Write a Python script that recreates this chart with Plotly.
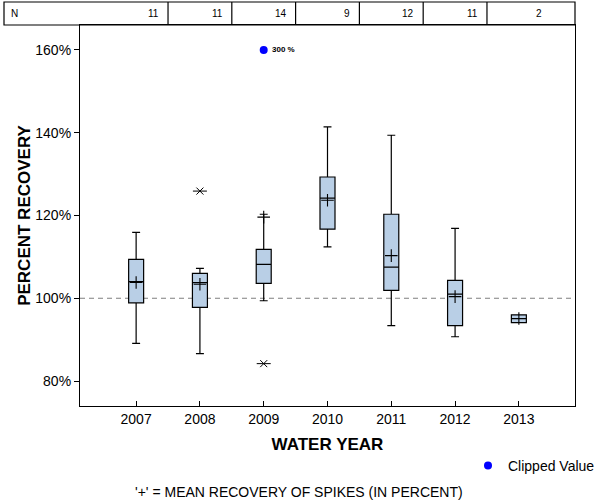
import plotly.graph_objects as go

# ---- data ----
years = [2007, 2008, 2009, 2010, 2011, 2012, 2013]
n_counts = [11, 11, 14, 9, 12, 11, 2]
q1 = [98.9, 97.8, 103.6, 116.7, 101.9, 93.4, 94.1]
median = [104.0, 103.8, 108.2, 124.2, 107.5, 101.0, 95.1]
q3 = [109.4, 106.0, 111.8, 129.3, 120.3, 104.3, 96.0]
lower_whisker = [89.1, 86.6, 99.4, 112.4, 93.4, 90.7, 94.1]
upper_whisker = [115.9, 107.2, 120.3, 141.4, 139.4, 116.9, 96.0]
means = [103.8, 103.4, 119.6, 123.7, 110.3, 100.4, 95.1]
outlier_years = [2008, 2009]
outlier_values = [125.9, 84.2]
clipped_years = [2009]
clipped_plot_values = [160]
clipped_labels = ["300 %"]
y_ticks = [80, 100, 120, 140, 160]
y_tick_labels = ["80%", "100%", "120%", "140%", "160%"]
reference_value = 100

FONT = "Arial, Liberation Sans, sans-serif"
XMIN, XMAX = 2006.12, 2013.88
YMIN, YMAX = 73.96, 166.04
BOX_FILL = "#b9cfe6"


def px(xv):
    return (xv - XMIN) / (XMAX - XMIN)


fig = go.Figure()

fig.add_trace(go.Box(
    x=years, q1=q1, median=median, q3=q3,
    lowerfence=lower_whisker, upperfence=upper_whisker,
    width=0.235, whiskerwidth=0.53,
    fillcolor=BOX_FILL, line=dict(color="black", width=1.2),
    boxpoints=False, showlegend=False, hoverinfo="skip",
))

fig.add_trace(go.Scatter(
    x=years, y=means, mode="markers", showlegend=False,
    marker=dict(symbol="cross-thin-open", size=9, color="black",
                line=dict(color="black", width=1.1)),
))

fig.add_trace(go.Scatter(
    x=outlier_years, y=outlier_values, mode="markers", showlegend=False,
    marker=dict(symbol="x-thin-open", size=7, color="black",
                line=dict(color="black", width=1)),
))
fig.add_trace(go.Scatter(
    x=outlier_years, y=outlier_values, mode="markers", showlegend=False,
    marker=dict(symbol="line-ew-open", size=10, color="black",
                line=dict(color="black", width=1)),
))

fig.add_trace(go.Scatter(
    x=clipped_years, y=clipped_plot_values, mode="markers",
    name="Clipped Value", showlegend=True,
    marker=dict(symbol="circle", size=8, color="#0000ff"),
))

for xv, yv, lab in zip(clipped_years, clipped_plot_values, clipped_labels):
    fig.add_annotation(x=xv, y=yv, xref="x", yref="y", text="<b>" + lab + "</b>",
                       showarrow=False, xanchor="left", yanchor="middle",
                       xshift=6, font=dict(family=FONT, size=8, color="black"))

# reference line at 100%
fig.add_shape(type="line", xref="paper", yref="y", x0=0, x1=1,
              y0=reference_value, y1=reference_value, layer="below",
              line=dict(color="#7f7f7f", width=1.2, dash="5px,4px"))

# ---- N table above the plot ----
plot_w, plot_h = 495.0, 381.0
table_left = (4 - 80) / plot_w
table_top = 1 + 23 / plot_h
fig.add_shape(type="rect", xref="paper", yref="paper",
              x0=table_left, x1=1, y0=1, y1=table_top,
              line=dict(color="black", width=1.2), fillcolor="rgba(0,0,0,0)")
for yr in years[:-1]:
    xs = px(yr + 0.5)
    fig.add_shape(type="line", xref="paper", yref="paper",
                  x0=xs, x1=xs, y0=1, y1=table_top,
                  line=dict(color="black", width=1.2))
row_mid = 1 + 11.5 / plot_h
fig.add_annotation(x=table_left, y=row_mid, xref="paper", yref="paper",
                   text="N", showarrow=False, xanchor="left", yanchor="middle",
                   xshift=5, font=dict(family=FONT, size=10, color="black"))
for yr, n in zip(years, n_counts):
    right = min(px(yr + 0.5), 1.0)
    fig.add_annotation(x=right, y=row_mid, xref="paper", yref="paper",
                       text=str(n), showarrow=False, xanchor="right",
                       yanchor="middle", xshift=-7,
                       font=dict(family=FONT, size=10, color="black"))

# footnote
fig.add_annotation(x=(299 - 80) / plot_w, y=(406 - 492) / plot_h,
                   xref="paper", yref="paper",
                   text="'+' = MEAN RECOVERY OF SPIKES (IN PERCENT)",
                   showarrow=False, xanchor="center", yanchor="middle",
                   font=dict(family=FONT, size=14, color="black"))

fig.update_layout(
    width=600, height=500,
    margin=dict(l=80, r=25, t=25, b=94, autoexpand=False),
    paper_bgcolor="white", plot_bgcolor="white",
    font=dict(family=FONT, size=14, color="black"),
    legend=dict(x=(468 - 80) / plot_w, y=(406 - 466) / plot_h,
                xanchor="left", yanchor="middle",
                font=dict(family=FONT, size=14, color="black"),
                bgcolor="rgba(0,0,0,0)", itemwidth=30),
    xaxis=dict(range=[XMIN, XMAX], tickmode="array", tickvals=years,
               ticktext=[str(y) for y in years],
               ticks="inside", ticklen=5, tickcolor="black",
               showline=True, linecolor="black", linewidth=1.2, mirror=True,
               showgrid=False, zeroline=False,
               tickfont=dict(family=FONT, size=14, color="black"),
               title=dict(text="<b>WATER YEAR</b>", standoff=12,
                          font=dict(family=FONT, size=17, color="black"))),
    yaxis=dict(range=[YMIN, YMAX], tickmode="array", tickvals=y_ticks,
               ticktext=y_tick_labels, ticks="outside", ticklen=5,
               tickcolor="black",
               showline=True, linecolor="black", linewidth=1.2, mirror=True,
               showgrid=False, zeroline=False,
               tickfont=dict(family=FONT, size=14, color="black"),
               title=dict(text="<b>PERCENT RECOVERY</b>", standoff=0,
                          font=dict(family=FONT, size=17, color="black"))),
)

fig.write_html("out.html",
               config={"displayModeBar": False},
               post_script="document.body.style.margin='0';"
                           "document.body.style.overflow='hidden';")
